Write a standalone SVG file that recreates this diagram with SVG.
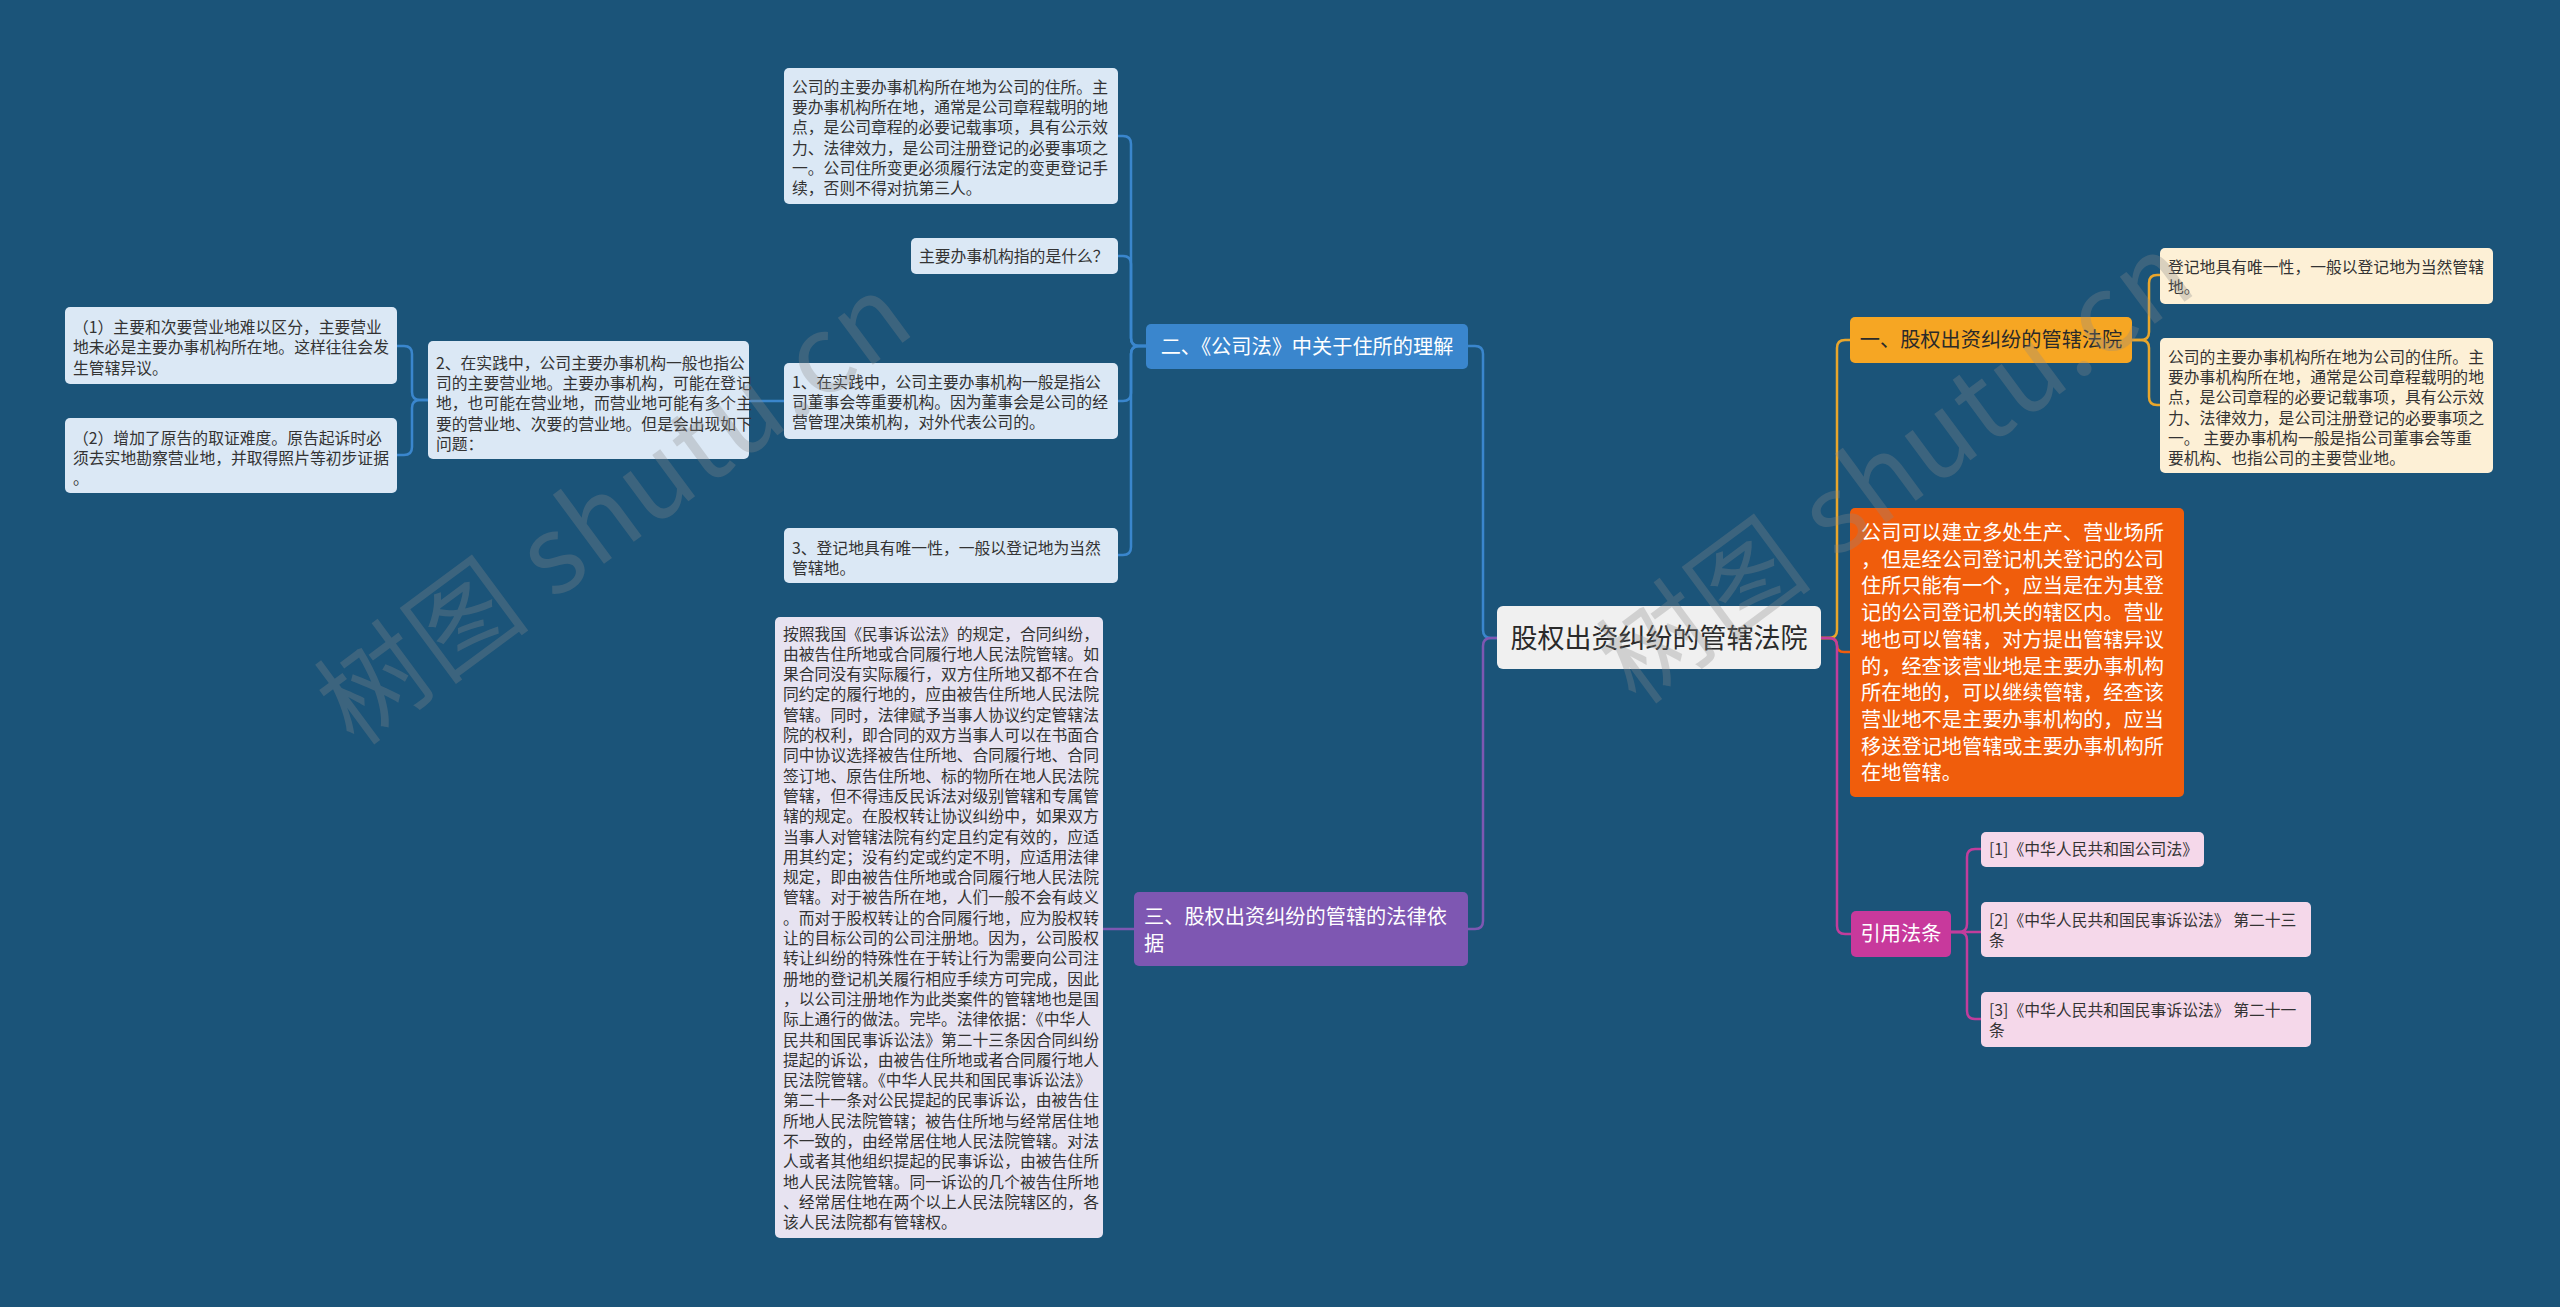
<svg xmlns="http://www.w3.org/2000/svg" width="2560" height="1307" viewBox="0 0 2560 1307">
<style>
text{font-family:"Noto Sans CJK SC","Noto Sans",sans-serif}
.s{font-size:15.8px;fill:#333}
.m{font-size:20.2px}
.wt{fill:#fff}
.dk{fill:#2a2a2a}
.c{fill:none;stroke-width:2.5;stroke-linecap:round;stroke-linejoin:round}
.blue{stroke:#3a86cd}
.pur{stroke:#7e57b2}
.gold{stroke:#e9a62c}
.red{stroke:#f05d0c}
.mag{stroke:#c23d9c}
.wm{font-size:108px;fill:#8a8a8a;opacity:0.3}
</style>
<rect x="0" y="0" width="2560" height="1307" fill="#1b5479"/>
<g id="connectors">
<path class="c blue" d="M1497 638 H1491 Q1483 638 1483 630 V354 Q1483 346 1475 346 H1468"/>
<path class="c pur" d="M1497 638 H1491 Q1483 638 1483 646 V921 Q1483 929 1475 929 H1468"/>
<path class="c gold" d="M1821 638 H1829 Q1837 638 1837 630 V348 Q1837 340 1845 340 H1850"/>
<path class="c red" d="M1821 638 H1829 Q1837 638 1837 645 Q1837 652 1844 652 H1850"/>
<path class="c mag" d="M1821 638 H1829 Q1837 638 1837 646 V926 Q1837 934 1845 934 H1851"/>
<path class="c blue" d="M1146 346 H1139 Q1131 346 1131 338 V144 Q1131 136 1123 136 H1118"/>
<path class="c blue" d="M1146 346 H1139 Q1131 346 1131 338 V264 Q1131 256 1123 256 H1118"/>
<path class="c blue" d="M1146 346 H1139 Q1131 346 1131 354 V393 Q1131 401 1123 401 H1118"/>
<path class="c blue" d="M1146 346 H1139 Q1131 346 1131 354 V547 Q1131 555 1123 555 H1118"/>
<path class="c blue" d="M784 401 H749"/>
<path class="c blue" d="M428 400 H420 Q412 400 412 392 V354 Q412 346 404 346 H397"/>
<path class="c blue" d="M428 400 H420 Q412 400 412 408 V447 Q412 455 404 455 H397"/>
<path class="c pur" d="M1134 929 H1103"/>
<path class="c gold" d="M2132 340 H2141 Q2149 340 2149 332 V283 Q2149 275 2157 275 H2160"/>
<path class="c gold" d="M2132 340 H2141 Q2149 340 2149 348 V397 Q2149 405 2157 405 H2160"/>
<path class="c mag" d="M1951 932 H1959 Q1967 932 1967 924 V857 Q1967 849 1975 849 H1981"/>
<path class="c mag" d="M1951 932 H1981"/>
<path class="c mag" d="M1951 932 H1959 Q1967 932 1967 940 V1011 Q1967 1019 1975 1019 H1981"/>
</g>
<g id="root">
<rect x="1497" y="606" width="324" height="63" rx="6" fill="#f0f0f0"/>
<text x="1659" y="648" text-anchor="middle" font-size="27" class="dk">股权出资纠纷的管辖法院</text>
</g>
<g id="b2">
<rect x="1146" y="324" width="322" height="45" rx="5" fill="#3a86cd"/>
<text x="1307" y="354" text-anchor="middle" class="m wt">二、《公司法》中关于住所的理解</text>
</g>
<g id="b2-top">
<rect x="784" y="68" width="334" height="136" rx="5" fill="#dbe8f5"/>
<text class="s"><tspan x="792" y="93">公司的主要办事机构所在地为公司的住所。主</tspan><tspan x="792" y="113.2">要办事机构所在地，通常是公司章程载明的地</tspan><tspan x="792" y="133.4">点，是公司章程的必要记载事项，具有公示效</tspan><tspan x="792" y="153.6">力、法律效力，是公司注册登记的必要事项之</tspan><tspan x="792" y="173.8">一。公司住所变更必须履行法定的变更登记手</tspan><tspan x="792" y="194">续，否则不得对抗第三人。</tspan></text>
</g>
<g id="b2-q">
<rect x="911" y="238" width="207" height="36" rx="5" fill="#dbe8f5"/>
<text x="919" y="262" class="s">主要办事机构指的是什么？</text>
</g>
<g id="b2-1">
<rect x="784" y="363" width="334" height="76" rx="5" fill="#dbe8f5"/>
<text class="s"><tspan x="792" y="388">1、在实践中，公司主要办事机构一般是指公</tspan><tspan x="792" y="408.2">司董事会等重要机构。因为董事会是公司的经</tspan><tspan x="792" y="428.4">营管理决策机构，对外代表公司的。</tspan></text>
</g>
<g id="b2-3">
<rect x="784" y="528" width="334" height="55" rx="5" fill="#dbe8f5"/>
<text class="s"><tspan x="792" y="554">3、登记地具有唯一性，一般以登记地为当然</tspan><tspan x="792" y="574.2">管辖地。</tspan></text>
</g>
<g id="b2-2">
<rect x="428" y="341" width="321" height="118" rx="5" fill="#dbe8f5"/>
<text class="s"><tspan x="436" y="369">2、在实践中，公司主要办事机构一般也指公</tspan><tspan x="436" y="389.2">司的主要营业地。主要办事机构，可能在登记</tspan><tspan x="436" y="409.4">地，也可能在营业地，而营业地可能有多个主</tspan><tspan x="436" y="429.6">要的营业地、次要的营业地。但是会出现如下</tspan><tspan x="436" y="449.8">问题：</tspan></text>
</g>
<g id="b2-2-1">
<rect x="65" y="307" width="332" height="77" rx="5" fill="#dbe8f5"/>
<text class="s"><tspan x="73" y="333">（1）主要和次要营业地难以区分，主要营业</tspan><tspan x="73" y="353.4">地未必是主要办事机构所在地。这样往往会发</tspan><tspan x="73" y="373.8">生管辖异议。</tspan></text>
</g>
<g id="b2-2-2">
<rect x="65" y="418" width="332" height="75" rx="5" fill="#dbe8f5"/>
<text class="s"><tspan x="73" y="444">（2）增加了原告的取证难度。原告起诉时必</tspan><tspan x="73" y="464.2">须去实地勘察营业地，并取得照片等初步证据</tspan><tspan x="73" y="484.4">。</tspan></text>
</g>
<g id="b3">
<rect x="1134" y="892" width="334" height="74" rx="5" fill="#7e57b2"/>
<text class="m wt"><tspan x="1144" y="924">三、股权出资纠纷的管辖的法律依</tspan><tspan x="1144" y="950.6">据</tspan></text>
</g>
<g id="b3-1">
<rect x="775" y="617" width="328" height="621" rx="5" fill="#e7e3f1"/>
<text class="s">
<tspan x="783" y="639.5">按照我国《民事诉讼法》的规定，合同纠纷，</tspan>
<tspan x="783" y="659.8">由被告住所地或合同履行地人民法院管辖。如</tspan>
<tspan x="783" y="680.1">果合同没有实际履行，双方住所地又都不在合</tspan>
<tspan x="783" y="700.4">同约定的履行地的，应由被告住所地人民法院</tspan>
<tspan x="783" y="720.7">管辖。同时，法律赋予当事人协议约定管辖法</tspan>
<tspan x="783" y="741">院的权利，即合同的双方当事人可以在书面合</tspan>
<tspan x="783" y="761.3">同中协议选择被告住所地、合同履行地、合同</tspan>
<tspan x="783" y="781.6">签订地、原告住所地、标的物所在地人民法院</tspan>
<tspan x="783" y="801.9">管辖，但不得违反民诉法对级别管辖和专属管</tspan>
<tspan x="783" y="822.2">辖的规定。在股权转让协议纠纷中，如果双方</tspan>
<tspan x="783" y="842.5">当事人对管辖法院有约定且约定有效的，应适</tspan>
<tspan x="783" y="862.8">用其约定；没有约定或约定不明，应适用法律</tspan>
<tspan x="783" y="883.1">规定，即由被告住所地或合同履行地人民法院</tspan>
<tspan x="783" y="903.4">管辖。对于被告所在地，人们一般不会有歧义</tspan>
<tspan x="783" y="923.7">。而对于股权转让的合同履行地，应为股权转</tspan>
<tspan x="783" y="944">让的目标公司的公司注册地。因为，公司股权</tspan>
<tspan x="783" y="964.3">转让纠纷的特殊性在于转让行为需要向公司注</tspan>
<tspan x="783" y="984.6">册地的登记机关履行相应手续方可完成，因此</tspan>
<tspan x="783" y="1004.9">，以公司注册地作为此类案件的管辖地也是国</tspan>
<tspan x="783" y="1025.2">际上通行的做法。完毕。法律依据：《中华人</tspan>
<tspan x="783" y="1045.5">民共和国民事诉讼法》第二十三条因合同纠纷</tspan>
<tspan x="783" y="1065.8">提起的诉讼，由被告住所地或者合同履行地人</tspan>
<tspan x="783" y="1086.1">民法院管辖。《中华人民共和国民事诉讼法》</tspan>
<tspan x="783" y="1106.4">第二十一条对公民提起的民事诉讼，由被告住</tspan>
<tspan x="783" y="1126.7">所地人民法院管辖；被告住所地与经常居住地</tspan>
<tspan x="783" y="1147">不一致的，由经常居住地人民法院管辖。对法</tspan>
<tspan x="783" y="1167.3">人或者其他组织提起的民事诉讼，由被告住所</tspan>
<tspan x="783" y="1187.6">地人民法院管辖。同一诉讼的几个被告住所地</tspan>
<tspan x="783" y="1207.9">、经常居住地在两个以上人民法院辖区的，各</tspan>
<tspan x="783" y="1228.2">该人民法院都有管辖权。</tspan>
</text>
</g>
<g id="b1">
<rect x="1850" y="317" width="282" height="46" rx="5" fill="#f6a623"/>
<text x="1991" y="347" text-anchor="middle" class="m dk">一、股权出资纠纷的管辖法院</text>
</g>
<g id="b1-a">
<rect x="2160" y="248" width="333" height="56" rx="5" fill="#fdf0d6"/>
<text class="s"><tspan x="2168" y="273">登记地具有唯一性，一般以登记地为当然管辖</tspan><tspan x="2168" y="293.2">地。</tspan></text>
</g>
<g id="b1-b">
<rect x="2160" y="338" width="333" height="135" rx="5" fill="#fdf0d6"/>
<text class="s"><tspan x="2168" y="363">公司的主要办事机构所在地为公司的住所。主</tspan><tspan x="2168" y="383.2">要办事机构所在地，通常是公司章程载明的地</tspan><tspan x="2168" y="403.4">点，是公司章程的必要记载事项，具有公示效</tspan><tspan x="2168" y="423.6">力、法律效力，是公司注册登记的必要事项之</tspan><tspan x="2168" y="443.8">一。 主要办事机构一般是指公司董事会等重</tspan><tspan x="2168" y="464">要机构、也指公司的主要营业地。</tspan></text>
</g>
<g id="b4">
<rect x="1850" y="508" width="334" height="289" rx="5" fill="#f05d0c"/>
<text class="m wt">
<tspan x="1861" y="540">公司可以建立多处生产、营业场所</tspan>
<tspan x="1861" y="566.7">，但是经公司登记机关登记的公司</tspan>
<tspan x="1861" y="593.4">住所只能有一个，应当是在为其登</tspan>
<tspan x="1861" y="620.1">记的公司登记机关的辖区内。营业</tspan>
<tspan x="1861" y="646.8">地也可以管辖，对方提出管辖异议</tspan>
<tspan x="1861" y="673.5">的，经查该营业地是主要办事机构</tspan>
<tspan x="1861" y="700.2">所在地的，可以继续管辖，经查该</tspan>
<tspan x="1861" y="726.9">营业地不是主要办事机构的，应当</tspan>
<tspan x="1861" y="753.6">移送登记地管辖或主要办事机构所</tspan>
<tspan x="1861" y="780.3">在地管辖。</tspan>
</text>
</g>
<g id="b5">
<rect x="1851" y="911" width="100" height="46" rx="5" fill="#c8399c"/>
<text x="1901" y="941" text-anchor="middle" class="m wt">引用法条</text>
</g>
<g id="b5-1">
<rect x="1981" y="832" width="223" height="35" rx="5" fill="#f5d8ea"/>
<text x="1989" y="855" class="s">[1]《中华人民共和国公司法》</text>
</g>
<g id="b5-2">
<rect x="1981" y="902" width="330" height="55" rx="5" fill="#f5d8ea"/>
<text class="s"><tspan x="1989" y="926">[2]《中华人民共和国民事诉讼法》 第二十三</tspan><tspan x="1989" y="946.2">条</tspan></text>
</g>
<g id="b5-3">
<rect x="1981" y="992" width="330" height="55" rx="5" fill="#f5d8ea"/>
<text class="s"><tspan x="1989" y="1016">[3]《中华人民共和国民事诉讼法》 第二十一</tspan><tspan x="1989" y="1036.2">条</tspan></text>
</g>
<g id="watermarks">
<text class="wm" transform="translate(355,748) rotate(-36.5)" textLength="700" lengthAdjust="spacing">树图 shutu.cn</text>
<text class="wm" transform="translate(1637,707) rotate(-36.5)" textLength="700" lengthAdjust="spacing">树图 shutu.cn</text>
</g>
</svg>
